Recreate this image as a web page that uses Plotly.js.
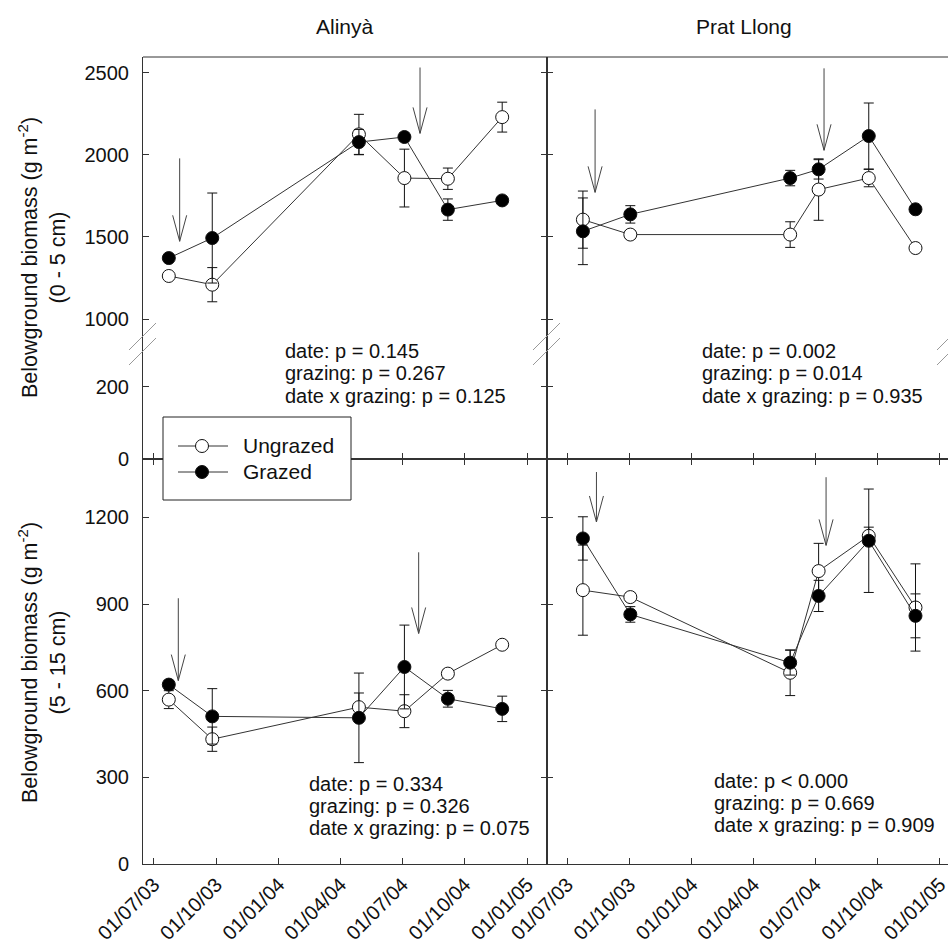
<!DOCTYPE html>
<html>
<head>
<meta charset="utf-8">
<script src="https://cdn.plot.ly/plotly-3.0.1.min.js"></script>
<style>html,body{margin:0;padding:0;background:#fff;}#chart{width:948px;height:950px;}</style>
</head>
<body>
<div id="chart"></div>
<script>
// ---------------- DATA ----------------
const tickDates = ['2003-07-01','2003-10-01','2004-01-01','2004-04-01','2004-07-01','2004-10-01','2005-01-01'];
const tickLabels = ['01/07/03','01/10/03','01/01/04','01/04/04','01/07/04','01/10/04','01/01/05'];

const alinyaDates = ['2003-07-23','2003-09-25','2004-04-28','2004-07-04','2004-09-06','2004-11-25'];
const pratDates   = ['2003-07-24','2003-10-02','2004-05-25','2004-07-06','2004-09-18','2004-11-26'];

// Alinyà 0-5 cm
const alTopUng    = [1262, 1209, 2124, 1858, 1854, 2229];
const alTopUngErr = [15, 104, 122, 176, 65, 91];
const alTopGrz    = [1371, 1493, 2077, 2108, 1666, 1722];
const alTopGrzErr = [15, 274, 77, 25, 65, 15];
// Prat Llong 0-5 cm
const prTopUng    = [1605, 1514, 1514, 1788, 1858, 1432];
const prTopUngErr = [174, 25, 78, 187, 53, 15];
const prTopGrz    = [1534, 1637, 1858, 1911, 2114, 1668];
const prTopGrzErr = [203, 53, 47, 59, 201, 15];
// Alinyà 5-15 cm
const alBotUng    = [569, 432, 543, 529, 659, 759];
const alBotUngErr = [31, 42, 49, 57, 15, 10];
const alBotGrz    = [621, 511, 506, 682, 572, 537];
const alBotGrzErr = [15, 96, 155, 145, 29, 44];
// Prat Llong 5-15 cm
const prBotUng    = [948, 924, 662, 1014, 1136, 888];
const prBotUngErr = [156, 15, 79, 96, 30, 151];
const prBotGrz    = [1127, 864, 697, 928, 1119, 859];
const prBotGrzErr = [75, 27, 43, 54, 179, 76];

// Grazing-event arrows (date, tip value, tail value)
const alTopArrowDates = ['2003-08-08','2004-07-27'];
const alTopArrowTip   = [1473, 2130];
const alTopArrowTail  = [1978, 2531];
const prTopArrowDates = ['2003-08-11','2004-07-14'];
const prTopArrowTip   = [1771, 2027];
const prTopArrowTail  = [2276, 2526];
const alBotArrowDates = ['2003-08-06','2004-07-25'];
const alBotArrowTip   = [635, 798];
const alBotArrowTail  = [920, 1079];
const prBotArrowDates = ['2003-08-13','2004-07-17'];
const prBotArrowTip   = [1184, 1103];
const prBotArrowTail  = [1357, 1339];

const siteNames = ['Alinyà', 'Prat Llong'];
const seriesNames = ['Ungrazed', 'Grazed'];
const alTopStats = ['date: p = 0.145', 'grazing: p = 0.267', 'date x grazing: p = 0.125'];
const prTopStats = ['date: p = 0.002', 'grazing: p = 0.014', 'date x grazing: p = 0.935'];
const alBotStats = ['date: p = 0.334', 'grazing: p = 0.326', 'date x grazing: p = 0.075'];
const prBotStats = ['date: p < 0.000', 'grazing: p = 0.669', 'date x grazing: p = 0.909'];
const yTitleTop = 'Belowground biomass (g m<sup>-2</sup>)<br>(0 - 5 cm)';
const yTitleBot = 'Belowground biomass (g m<sup>-2</sup>)<br>(5 - 15 cm)';

// ---------------- LAYOUT HELPERS ----------------
const W = 948, H = 950;
const px = v => v / W;
const py = v => (H - v) / H;
const FONT = 'Liberation Sans, Arial, sans-serif';
const AX = '#333';

const domL = [px(143), px(547)];
const domR = [px(547), 1];
const domBot = [py(864), py(459)];
const domTopLow = [py(459), py(343)];
const domTopUp = [py(343), py(57)];

function trace(x, y, err, filled, xa, ya) {
  return {
    type: 'scatter', mode: 'lines+markers', x: x, y: y,
    xaxis: xa, yaxis: ya,
    name: filled ? seriesNames[1] : seriesNames[0],
    showlegend: false,
    line: {color: '#333', width: 1},
    marker: {symbol: 'circle', size: 13, color: filled ? '#000' : '#fff', line: {color: '#111', width: 1}},
    error_y: {type: 'data', array: err, visible: true, color: '#111', thickness: 1, width: 5},
    cliponaxis: false
  };
}
function holder(xa, ya) {
  return {type: 'scatter', mode: 'markers', x: [], y: [], xaxis: xa, yaxis: ya, showlegend: false, hoverinfo: 'skip'};
}

const data = [
  trace(alinyaDates, alTopUng, alTopUngErr, false, 'x3', 'y5'),
  trace(alinyaDates, alTopGrz, alTopGrzErr, true,  'x3', 'y5'),
  trace(pratDates,   prTopUng, prTopUngErr, false, 'x4', 'y6'),
  trace(pratDates,   prTopGrz, prTopGrzErr, true,  'x4', 'y6'),
  trace(alinyaDates, alBotUng, alBotUngErr, false, 'x',  'y'),
  trace(alinyaDates, alBotGrz, alBotGrzErr, true,  'x',  'y'),
  trace(pratDates,   prBotUng, prBotUngErr, false, 'x2', 'y2'),
  trace(pratDates,   prBotGrz, prBotGrzErr, true,  'x2', 'y2'),
  holder('x3', 'y3'),
  holder('x4', 'y4')
];

const base = {
  showline: true, linecolor: AX, linewidth: 1,
  ticks: 'inside', ticklen: 6, tickcolor: AX, tickwidth: 1,
  showgrid: false, zeroline: false,
  tickfont: {family: FONT, size: 20, color: '#111'}
};
const rangeL = ['2003-06-15', '2005-01-30'];
const rangeR = ['2003-06-01', '2005-01-13'];
function xax(dom, anchor, range, labels, mirror) {
  return Object.assign({}, base, {
    domain: dom, anchor: anchor, type: 'date', range: range,
    tickmode: 'array', tickvals: tickDates, ticktext: tickLabels,
    tickangle: -45, showticklabels: labels, mirror: mirror,
    ticklabeloverflow: 'allow'
  });
}
function yax(dom, anchor, range, vals, labels, mirror) {
  return Object.assign({}, base, {
    domain: dom, anchor: anchor, range: range,
    tickmode: 'array', tickvals: vals, showticklabels: labels, mirror: mirror,
    ticklabelstandoff: 9
  });
}

const shapes = [];
const annotations = [];

function arrows(dates, tips, tails, xa, ya) {
  dates.forEach((d, i) => {
    shapes.push({type: 'line', xref: xa, yref: ya, x0: d, x1: d, y0: tips[i], y1: tails[i],
      line: {color: '#444', width: 1}});
    shapes.push({type: 'path', xref: xa, yref: ya, xsizemode: 'pixel', ysizemode: 'pixel',
      xanchor: d, yanchor: tips[i], path: 'M-7,26L0,0L7,26', line: {color: '#444', width: 1}});
  });
}
arrows(alTopArrowDates, alTopArrowTip, alTopArrowTail, 'x3', 'y5');
arrows(prTopArrowDates, prTopArrowTip, prTopArrowTail, 'x4', 'y6');
arrows(alBotArrowDates, alBotArrowTip, alBotArrowTail, 'x', 'y');
arrows(prBotArrowDates, prBotArrowTip, prBotArrowTail, 'x2', 'y2');

// top border
shapes.push({type: 'line', xref: 'paper', yref: 'paper', x0: px(143), x1: 1, y0: py(57), y1: py(57), line: {color: AX, width: 1}});
// axis-break slashes
[[129, 156], [533, 560], [937, 964]].forEach(([a, b]) => {
  shapes.push({type: 'line', xref: 'paper', yref: 'paper', x0: px(a), x1: px(b), y0: py(350), y1: py(323), line: {color: '#999', width: 1}});
  shapes.push({type: 'line', xref: 'paper', yref: 'paper', x0: px(a), x1: px(b), y0: py(365), y1: py(338), line: {color: '#999', width: 1}});
});
// legend (frame, symbol samples, labels)
shapes.push({type: 'rect', xref: 'paper', yref: 'paper', x0: px(163), x1: px(351), y0: py(500), y1: py(417),
  fillcolor: '#fff', line: {color: '#222', width: 1}, layer: 'above'});
[[446, '#fff'], [472, '#000']].forEach(([yy, fill], i) => {
  shapes.push({type: 'line', xref: 'paper', yref: 'paper', x0: px(178), x1: px(228), y0: py(yy), y1: py(yy),
    line: {color: '#333', width: 1}, layer: 'above'});
  shapes.push({type: 'circle', xref: 'paper', yref: 'paper', x0: px(202 - 6.5), x1: px(202 + 6.5),
    y0: py(yy + 6.5), y1: py(yy - 6.5), fillcolor: fill, line: {color: '#111', width: 1}, layer: 'above'});
  annotations.push({text: seriesNames[i], xref: 'paper', yref: 'paper', x: px(241), y: py(yy),
    xanchor: 'left', yanchor: 'middle', showarrow: false, font: {family: FONT, size: 21, color: '#111'}});
});

function stats(lines, x, ys) {
  lines.forEach((t, i) => annotations.push({text: t, xref: 'paper', yref: 'paper', x: px(x), y: py(ys[i]),
    xanchor: 'left', yanchor: 'middle', showarrow: false, font: {family: FONT, size: 20, color: '#111'}}));
}
stats(alTopStats, 283, [351, 373, 396]);
stats(prTopStats, 700, [351, 373, 396]);
stats(alBotStats, 307, [784, 806, 828]);
stats(prBotStats, 712, [781, 803, 825]);

annotations.push({text: siteNames[0], xref: 'paper', yref: 'paper', x: px(345), y: py(27), xanchor: 'center', yanchor: 'middle', showarrow: false, font: {family: FONT, size: 21, color: '#111'}});
annotations.push({text: siteNames[1], xref: 'paper', yref: 'paper', x: px(744), y: py(27), xanchor: 'center', yanchor: 'middle', showarrow: false, font: {family: FONT, size: 21, color: '#111'}});
annotations.push({text: yTitleTop, textangle: -90, xref: 'paper', yref: 'paper', x: px(42), y: py(258), xanchor: 'center', yanchor: 'middle', showarrow: false, font: {family: FONT, size: 21.5, color: '#111'}});
annotations.push({text: yTitleBot, textangle: -90, xref: 'paper', yref: 'paper', x: px(42), y: py(663), xanchor: 'center', yanchor: 'middle', showarrow: false, font: {family: FONT, size: 21.5, color: '#111'}});

const layout = {
  width: W, height: H,
  margin: {l: 0, r: 0, t: 0, b: 0},
  paper_bgcolor: '#fff', plot_bgcolor: 'rgba(0,0,0,0)',
  font: {family: FONT, color: '#111'},
  showlegend: false,
  xaxis:  xax(domL, 'y',  rangeL, true,  'ticks'),
  xaxis2: xax(domR, 'y2', rangeR, true,  'ticks'),
  xaxis3: xax(domL, 'y3', rangeL, false, false),
  xaxis4: xax(domR, 'y4', rangeR, false, false),
  yaxis:  yax(domBot, 'x',  [0, 1402], [0, 300, 600, 900, 1200], true,  'ticks'),
  yaxis2: yax(domBot, 'x2', [0, 1402], [0, 300, 600, 900, 1200], false, false),
  yaxis3: yax(domTopLow, 'x3', [0, 322], [0, 200], true,  'ticks'),
  yaxis4: yax(domTopLow, 'x4', [0, 322], [0, 200], false, false),
  yaxis5: yax(domTopUp, 'x3', [854, 2595], [1000, 1500, 2000, 2500], true,  'ticks'),
  yaxis6: yax(domTopUp, 'x4', [854, 2595], [1000, 1500, 2000, 2500], false, false),
  shapes: shapes,
  annotations: annotations
};

Plotly.newPlot('chart', data, layout, {displayModeBar: false, staticPlot: true});
</script>
</body>
</html>
